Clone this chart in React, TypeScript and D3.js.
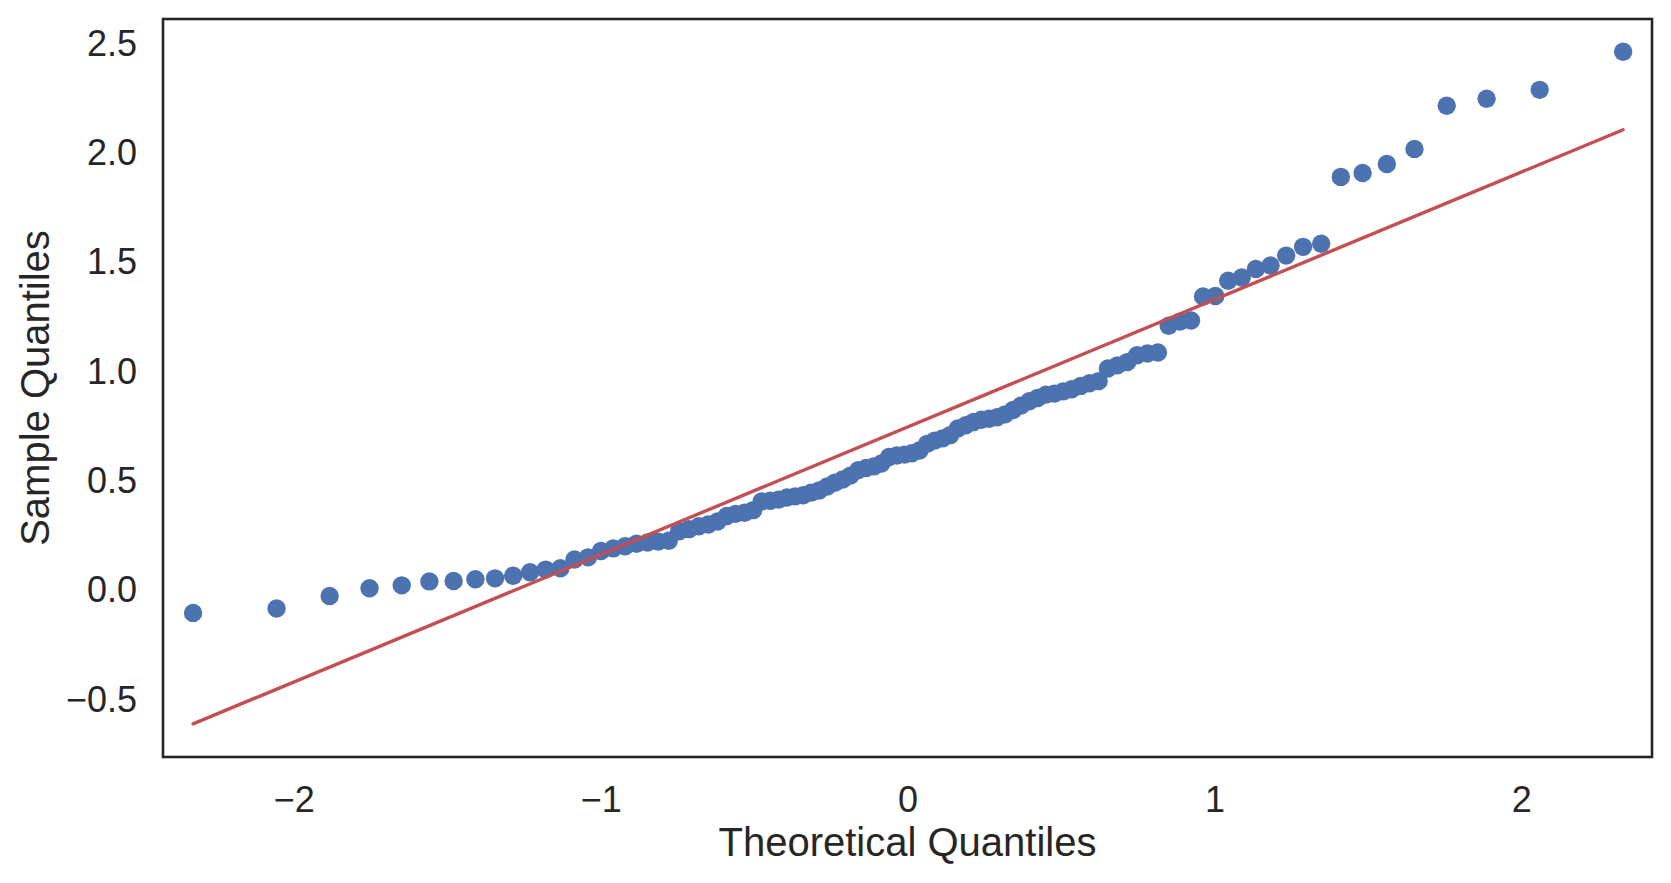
import { useMemo } from 'react';
import * as d3 from 'd3';

// theoretical normal quantiles (x) and sorted sample values (y)
const theoretical = [
  -2.330, -2.058, -1.885, -1.755, -1.650, -1.560, -1.481, -1.410, -1.346, -1.287,
  -1.232, -1.181, -1.133, -1.087, -1.043, -1.001, -0.961, -0.922, -0.885, -0.849,
  -0.814, -0.780, -0.746, -0.714, -0.682, -0.651, -0.621, -0.591, -0.562, -0.533,
  -0.505, -0.477, -0.449, -0.422, -0.395, -0.368, -0.342, -0.316, -0.290, -0.264,
  -0.239, -0.213, -0.188, -0.162, -0.137, -0.112, -0.087, -0.062, -0.037, -0.012,
  0.012, 0.037, 0.062, 0.087, 0.112, 0.137, 0.162, 0.188, 0.213, 0.239,
  0.264, 0.290, 0.316, 0.342, 0.368, 0.395, 0.422, 0.449, 0.477, 0.505,
  0.533, 0.562, 0.591, 0.621, 0.651, 0.682, 0.714, 0.746, 0.780, 0.814,
  0.849, 0.885, 0.922, 0.961, 1.001, 1.043, 1.087, 1.133, 1.181, 1.232,
  1.287, 1.346, 1.410, 1.481, 1.560, 1.650, 1.755, 1.885, 2.058, 2.330,
];

const sample = [
  -0.098, -0.078, -0.021, 0.015, 0.028, 0.046, 0.048, 0.056, 0.060, 0.072,
  0.088, 0.100, 0.106, 0.146, 0.156, 0.185, 0.197, 0.207, 0.218, 0.224,
  0.228, 0.232, 0.275, 0.285, 0.298, 0.306, 0.320, 0.345, 0.355, 0.360,
  0.372, 0.412, 0.415, 0.420, 0.430, 0.435, 0.440, 0.452, 0.462, 0.480,
  0.497, 0.512, 0.530, 0.555, 0.565, 0.572, 0.585, 0.615, 0.622, 0.626,
  0.632, 0.645, 0.675, 0.690, 0.700, 0.715, 0.745, 0.760, 0.775, 0.785,
  0.790, 0.797, 0.810, 0.830, 0.850, 0.870, 0.885, 0.900, 0.905, 0.915,
  0.925, 0.940, 0.952, 0.962, 1.020, 1.034, 1.049, 1.080, 1.088, 1.093,
  1.215, 1.234, 1.239, 1.349, 1.351, 1.421, 1.436, 1.475, 1.491, 1.536,
  1.576, 1.590, 1.896, 1.914, 1.955, 2.024, 2.221, 2.253, 2.294, 2.468,
];

// standardized reference line
const lineSlope = 0.583;
const lineIntercept = 0.753;

const xTicks = [-2, -1, 0, 1, 2];
const yTicks = [-0.5, 0, 0.5, 1, 1.5, 2, 2.5];
const xLimits = [-2.428, 2.424];
const yLimits = [-0.757, 2.618];

const W = 1671;
const H = 883;
const plot = { left: 163, right: 1652, top: 19, bottom: 757 };
const ink = '#262626';
const font = '"Liberation Sans", Arial, Helvetica, sans-serif';

const minus = (s: string) => s.replace('-', '\u2212');

export default function App() {
  const x = useMemo(() => d3.scaleLinear().domain(xLimits).range([plot.left, plot.right]), []);
  const y = useMemo(() => d3.scaleLinear().domain(yLimits).range([plot.bottom, plot.top]), []);

  const points = theoretical.map((t, i) => [t, sample[i]] as [number, number]);
  const q0 = theoretical[0];
  const q1 = theoretical[theoretical.length - 1];
  const fitLine = d3.line<number>()
    .x(d => x(d))
    .y(d => y(lineIntercept + lineSlope * d))([q0, q1]) || '';

  return (
    <div style={{ position: 'absolute', left: 0, top: 0 }}>
      <style>{'body{margin:0}'}</style>
      <svg width={W} height={H} style={{ display: 'block', background: '#fff' }} fontFamily={font}>
        <defs>
          <clipPath id="plotClip">
            <rect x={plot.left} y={plot.top} width={plot.right - plot.left} height={plot.bottom - plot.top} />
          </clipPath>
        </defs>

        <g clipPath="url(#plotClip)">
          {points.map((d, i) => (
            <circle key={i} cx={x(d[0])} cy={y(d[1])} r={9.2} fill="#4c72b0" />
          ))}
          <path d={fitLine} stroke="#c44e52" strokeWidth={3.4} fill="none" strokeLinecap="round" />
        </g>

        <rect
          x={plot.left} y={plot.top}
          width={plot.right - plot.left} height={plot.bottom - plot.top}
          fill="none" stroke={ink} strokeWidth={2.6}
        />

        {xTicks.map(t => (
          <text key={t} x={x(t)} y={812} textAnchor="middle" fontSize={36} fill={ink}>
            {minus(d3.format('d')(t))}
          </text>
        ))}
        {yTicks.map(t => (
          <text key={t} x={137} y={y(t) + 11} textAnchor="end" fontSize={36} fill={ink}>
            {minus(d3.format('.1f')(t))}
          </text>
        ))}

        <text x={(plot.left + plot.right) / 2} y={856} textAnchor="middle" fontSize={40} fill={ink}>
          Theoretical Quantiles
        </text>
        <text
          transform={`translate(49,${(plot.top + plot.bottom) / 2}) rotate(-90)`}
          textAnchor="middle" fontSize={40} fill={ink}
        >
          Sample Quantiles
        </text>
      </svg>
    </div>
  );
}
